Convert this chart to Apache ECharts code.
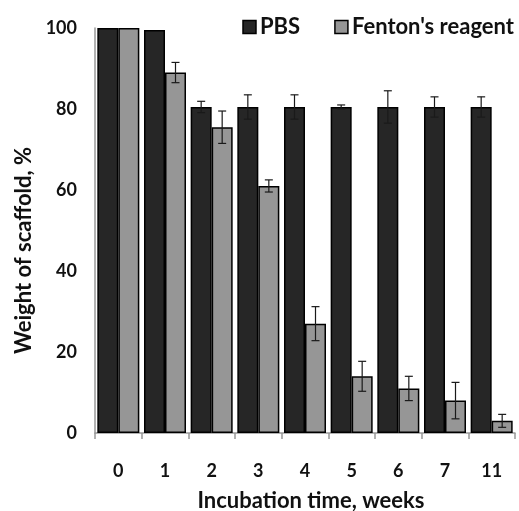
<!DOCTYPE html>
<html><head><meta charset="utf-8">
<script src="https://cdn.jsdelivr.net/npm/echarts@6/dist/echarts.min.js"></script>
<style>html,body{margin:0;padding:0;background:#fff}#c{width:519px;height:511px}</style>
</head><body><div id="c"></div>
<script>
const categories = ['0','1','2','3','4','5','6','7','11'];
const pbs = [100, 99.5, 80.5, 80.5, 80.5, 80.5, 80.5, 80.5, 80.5];
const pbsErr = [0, 0, 1.4, 3, 3, 0.5, 4, 2.5, 2.5];
const fenton = [100, 89, 75.5, 61, 27, 14, 11, 8, 3];
const fentonErr = [0, 2.5, 4, 1.5, 4.2, 3.7, 3, 4.5, 1.6];
const yTicks = [0, 20, 40, 60, 80, 100];

const chart = echarts.init(document.getElementById('c'), null, {renderer:'canvas'});
const FONT = 'Lato';
function errSeries(vals, errs, side){
  return {
    type:'custom', z:10, silent:true,
    data: vals.map((v,i)=>[i, v, errs[i]]),
    renderItem: function(params, api){
      const i = api.value(0), v = api.value(1), e = api.value(2);
      if (!e) return null;
      const cw = api.size([1,0])[0];
      const bw = cw*0.9/2;
      const c = api.coord([i, v]);
      const x = c[0] + side*bw/2;
      const top = api.coord([i, v+e])[1];
      const bot = api.coord([i, v-e])[1];
      const cap = 4;
      const st = {stroke:'#1a1a1a', lineWidth:1.2};
      return {type:'group', children:[
        {type:'line', shape:{x1:x,y1:top,x2:x,y2:bot}, style:st},
        {type:'line', shape:{x1:x-cap,y1:top,x2:x+cap,y2:top}, style:st},
        {type:'line', shape:{x1:x-cap,y1:bot,x2:x+cap,y2:bot}, style:st}
      ]};
    }
  };
}
chart.setOption({
  animation:false,
  textStyle:{fontFamily:FONT},
  grid:{left:95, right:4, top:28, bottom:78, outerBoundsMode:'none', containLabel:false},
  legend:{
    top:11, right:0, itemWidth:13, itemHeight:13, itemGap:34,
    icon:'rect',
    textStyle:{fontFamily:FONT, fontWeight:'bold', fontSize:22, color:'#111', padding:[0,0,0,-1]},
    data:[{name:'PBS', itemStyle:{borderColor:'#000', borderWidth:1.5}}, {name:"Fenton's reagent", itemStyle:{borderColor:'#000', borderWidth:1.5}}]
  },
  xAxis:{
    type:'category', data:categories,
    name:'Incubation time, weeks', nameLocation:'middle', nameGap:57,
    nameTextStyle:{fontFamily:FONT, fontWeight:'bold', fontSize:22, color:'#111', padding:[0,0,0,12]},
    axisLine:{lineStyle:{color:'#999', width:1.5}},
    axisTick:{show:true, length:6, lineStyle:{color:'#999', width:1.5}},
    axisLabel:{fontFamily:FONT, fontWeight:'bold', fontSize:18, color:'#111', margin:29}
  },
  yAxis:{
    type:'value', min:0, max:100, interval:20,
    name:'Weight of scaffold, %', nameLocation:'middle', nameGap:60,
    nameTextStyle:{fontFamily:FONT, fontWeight:'bold', fontSize:22, color:'#111', padding:[0,40,0,0]},
    axisLine:{show:true, lineStyle:{color:'#999', width:1.5}},
    axisTick:{show:false},
    splitLine:{show:false},
    axisLabel:{fontFamily:FONT, fontWeight:'bold', fontSize:18, color:'#111', margin:18,
      formatter: v => yTicks.includes(v) ? String(v) : ''}
  },
  series:[
    {name:'PBS', type:'bar', data:pbs, barGap:'0%', barCategoryGap:'10%',
     itemStyle:{color:'#262626', borderColor:'#000', borderWidth:1.5}},
    {name:"Fenton's reagent", type:'bar', data:fenton,
     itemStyle:{color:'#969696', borderColor:'#000', borderWidth:1.5}},
    errSeries(pbs, pbsErr, -1),
    errSeries(fenton, fentonErr, 1)
  ]
});
</script></body></html>
